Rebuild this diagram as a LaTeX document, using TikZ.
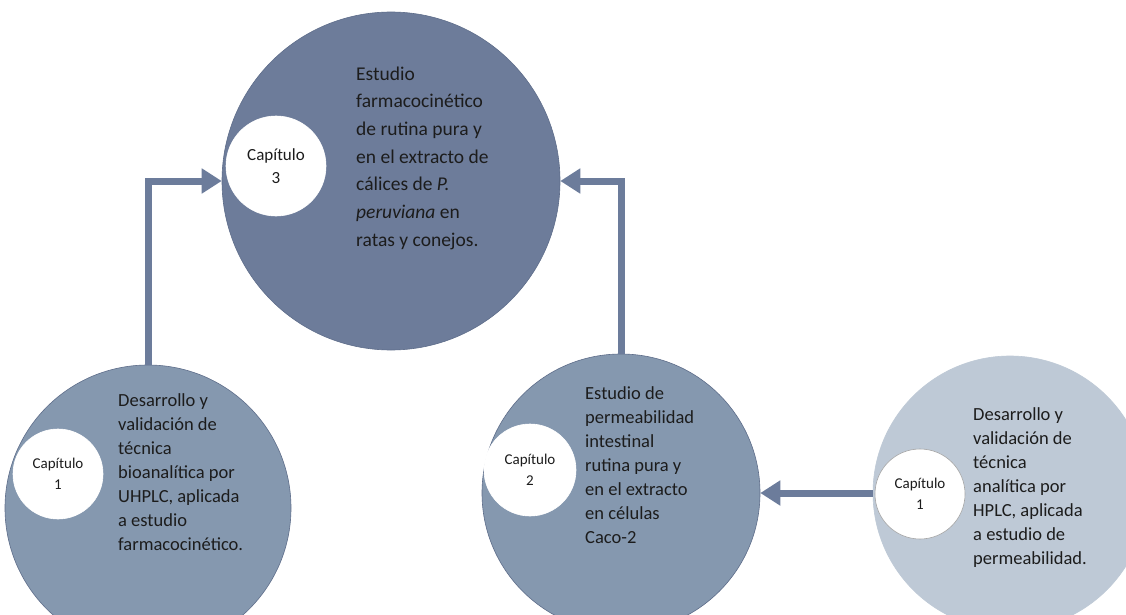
\documentclass[tikz,border=0pt]{standalone}
\usepackage{fontspec}
\setmainfont{Carlito}
\usetikzlibrary{arrows.meta}
\definecolor{bigc}{HTML}{6D7C9A}
\definecolor{midc}{HTML}{8598AF}
\definecolor{lightc}{HTML}{BEC9D6}
\definecolor{arrc}{HTML}{6C7C9B}
\definecolor{txt}{HTML}{1C1C1C}
\definecolor{edgec}{HTML}{5E6D8A}
\begin{document}
\begin{tikzpicture}[x=1pt,y=-1pt,
  disc/.style={circle, inner sep=0pt, draw=edgec, line width=0.6pt},
  whitedisc/.style={circle, inner sep=0pt, fill=white, draw=white, line width=0.6pt, align=center, text=txt},
  bigtext/.style={anchor=west, align=left, inner sep=0pt, text=txt, font=\fontsize{19.5}{27.7}\selectfont},
  smalltext/.style={anchor=west, align=left, inner sep=0pt, text=txt, font=\fontsize{18.5}{24}\selectfont},
  chap/.style={font=\fontsize{15}{21}\selectfont},
  flow/.style={draw=arrc, line width=7pt, -{Triangle[width=24pt,length=20pt]}}
]
\path[use as bounding box] (0,0) rectangle (1126,615);
\fill[white] (0,0) rectangle (1126,615);
\clip (0,0) rectangle (1126,615);

% main circle
\node[disc, fill=bigc, minimum size=338pt] (c3) at (391,181) {};
\node[whitedisc, minimum size=100pt, font=\fontsize{17}{23}\selectfont] (w3) at (276,166) {Capítulo\\3};
\node[bigtext] (t3) at (356,158) {Estudio\\farmacocinético\\de rutina pura y\\en el extracto de\\cálices de \textit{P.}\\\textit{peruviana} en\\ratas y conejos.};

% left circle
\node[disc, fill=midc, minimum size=286pt] (c1) at (148,508) {};
\node[whitedisc, minimum size=90pt, chap] (w1) at (58,474) {Capítulo\\1};
\node[smalltext] (t1) at (118,472) {Desarrollo y\\validación de\\técnica\\bioanalítica por\\UHPLC, aplicada\\a estudio\\farmacocinético.};

% middle circle
\node[disc, fill=midc, minimum size=278pt] (c2) at (621,493) {};
\node[whitedisc, minimum size=92pt, chap] (w2) at (530,470) {Capítulo\\2};
\node[smalltext] (t2) at (585,465) {Estudio de\\permeabilidad\\intestinal\\rutina pura y\\en el extracto\\en células\\Caco-2};

% right circle
\node[disc, fill=lightc, draw=lightc, minimum size=274pt] (c4) at (1010,493) {};
\node[whitedisc, draw=gray!70, minimum size=90pt, chap] (w4) at (920,494) {Capítulo\\1};
\node[smalltext] (t4) at (973,488) {Desarrollo y\\validación de\\técnica\\analítica por\\HPLC, aplicada\\a estudio de\\permeabilidad.};

% connectors
\draw[flow] (c1.north) |- (c3.west);
\draw[flow] (c2.north) |- (c3.east);
\draw[flow] (c4.west) -- (c2.east);
\end{tikzpicture}
\end{document}
